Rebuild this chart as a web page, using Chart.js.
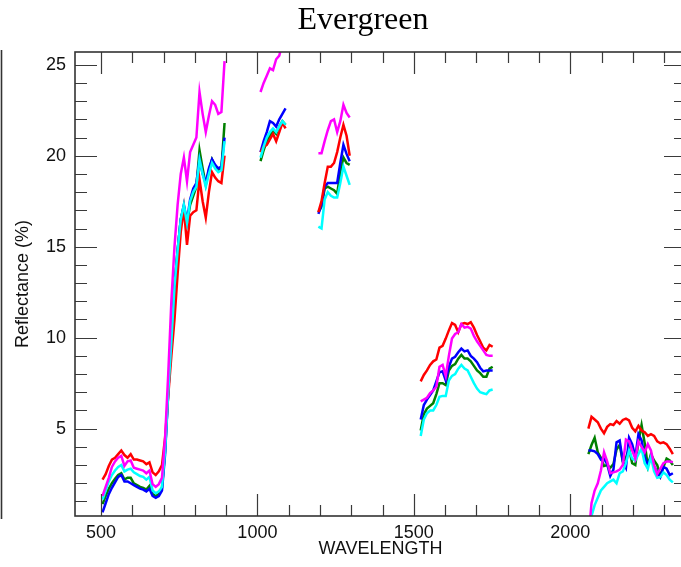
<!DOCTYPE html>
<html>
<head>
<meta charset="utf-8">
<title>Evergreen</title>
<script src="https://cdn.jsdelivr.net/npm/chart.js@4.4.0/dist/chart.umd.min.js"></script>
<style>
  html, body { margin: 0; padding: 0; background: #fff; overflow: hidden; }
  #wrap { position: relative; width: 681px; height: 567px; overflow: hidden; }
  #title {
    position: absolute; left: 0; top: 0; width: 726px; text-align: center;
    font-family: "Liberation Serif", "Times New Roman", serif; font-size: 32px; color: #000;
    line-height: 36px;
  }
  #chart { position: absolute; left: 0; top: 0; }
</style>
</head>
<body>
<div id="wrap">
  <canvas id="chart" width="700" height="567"></canvas>
  <div id="title">Evergreen</div>
</div>
<script>
// Spectral reflectance, evergreen canopy (5 samples)
// gaps (950, 1140, 1400, 1900) are the water absorption bands, left empty

const WAVELENGTH = [
    505, 515, 525, 535, 545, 555, 565, 575, 585, 595, 605, 615, 625, 635, 645, 655, 665, 675, 685, 695,
    705, 715, 725, 735, 745, 755, 765, 775, 785, 795, 805, 815, 825, 835, 845, 855, 865, 875, 885, 895,
    950,
    1010, 1020, 1030, 1040, 1050, 1060, 1070, 1080, 1090,
    1140,
    1195, 1205, 1215, 1225, 1235, 1245, 1255, 1265, 1275, 1285, 1295,
    1400,
    1522, 1532, 1542, 1552, 1562, 1572, 1582, 1592, 1602, 1612, 1622, 1632,
    1642, 1652, 1662, 1672, 1682, 1692, 1702, 1712, 1722, 1732, 1742, 1752,
    1900,
    2058, 2068, 2078, 2088, 2098, 2108, 2118, 2128, 2138, 2148, 2158, 2168, 2178, 2188,
    2198, 2208, 2218, 2228, 2238, 2248, 2258, 2268, 2278, 2288, 2298, 2308, 2318, 2328
];

const RED = [
    2.2, 2.5, 2.95, 3.3, 3.4, 3.6, 3.8, 3.55, 3.4, 3.6, 3.3, 3.3, 3.25, 3.2, 3.05, 3.15, 2.6, 2.45, 2.65, 3.0,
    4.5, 6.8, 9.0, 11.0, 13.5, 15.8, 17.1, 15.1, 16.7, 16.9, 17.0, 18.7, 17.5, 16.6, 18.0, 19.1, 18.8, 18.6, 18.5, 20.0,
    null,
    20.2, 20.5, 20.6, 20.9, 21.2, 20.8, 21.3, 21.8, 21.5,
    null,
    16.9, 17.5, 18.5, 19.4, 19.4, 19.6, 20.2, 21.0, 21.7, 21.1, 20.0,
    null,
    7.6, 7.95, 8.2, 8.5, 8.7, 8.8, 9.45, 9.55, 9.95, 10.4, 10.8, 10.7,
    10.3, 10.75, 10.8, 10.75, 10.85, 10.55, 10.15, 9.8, 9.45, 9.3, 9.6, 9.5,
    null,
    5.0, 5.65, 5.5, 5.35, 5.0, 4.75, 5.1, 5.25, 5.2, 5.42, 5.27, 5.48, 5.55, 5.45,
    5.05, 4.85, 5.15, 4.9, 4.8, 4.6, 4.7, 4.6, 4.3, 4.2, 4.25, 4.15, 3.9, 3.6
];

const MAGENTA = [
    1.3, 1.8, 2.3, 2.9, 3.2, 3.4, 3.5, 2.95, 3.2, 3.25, 2.85, 2.8, 2.75, 2.7, 2.55, 2.7, 1.95, 1.8, 1.95, 2.3,
    4.5, 8.0, 12.0, 15.0, 17.3, 19.0, 19.9, 18.6, 20.2, 20.6, 21.0, 23.5, 22.3, 21.3, 22.2, 23.0, 22.8, 22.3, 22.4, 25.2,
    null,
    23.5, 24.0, 24.4, 24.8, 24.7, 25.3, 25.5, 26.2, 26.6,
    null,
    20.14, 20.14, 20.8, 21.4, 21.9, 22.0, 21.3, 21.9, 22.8, 22.35, 22.1,
    null,
    6.5, 6.6, 6.7, 6.95, 7.1, 7.3, 8.4, 8.5, 7.9, 9.0, 9.95, 10.2,
    10.3, 10.75, 10.55, 10.6, 10.5, 10.1, 9.8, 9.55, 9.3, 9.05, 9.0, 9.0,
    null,
    -1.0, 0.9, 1.6, 2.0, 2.7, 3.7, 3.2, 2.55, 2.6, 2.65, 2.75, 3.0, 4.4, 4.3,
    3.8, 3.35, 4.3, 4.0, 3.7, 4.15, 3.8, 3.0, 2.5, 2.8, 3.1, 3.2, 3.2, 3.15
];

const CYAN = [
    1.1, 1.6, 2.1, 2.45, 2.7, 2.9, 3.0, 2.65, 2.75, 2.8, 2.6, 2.5, 2.4, 2.35, 2.2, 2.35, 1.6, 1.45, 1.55, 1.8,
    3.8, 7.0, 9.8, 12.8, 14.8, 16.5, 17.3, 16.3, 17.5, 18.0, 18.3, 19.8, 19.0, 18.3, 19.0, 19.6, 19.3, 19.1, 19.2, 20.8,
    null,
    19.9, 20.5, 21.0, 21.3, 21.5, 21.3, 21.6, 21.9, 21.7,
    null,
    16.1, 16.0, 17.6, 18.0, 17.8, 17.7, 17.7, 18.5, 19.4, 18.9, 18.4,
    null,
    4.6, 5.5, 5.85, 6.0, 6.0, 6.3, 6.75, 6.8, 6.8, 7.65, 7.9, 8.0,
    8.3, 8.5, 8.3, 8.2, 7.85, 7.5, 7.2, 7.0, 6.95, 6.9, 7.1, 7.15,
    null,
    -1.5, 0.2, 0.8, 1.2, 1.6, 1.8, 2.0, 2.1, 2.2, 2.0, 2.55, 2.65, 3.1, 3.8,
    3.35, 3.25, 3.6, 3.9, 3.1, 2.8, 3.45, 2.65, 2.3, 2.35, 2.6, 2.45, 2.2, 2.05
];

const GREEN = [
    0.85, 1.3, 1.7, 2.0, 2.25, 2.45, 2.55, 2.2, 2.3, 2.3, 2.0, 1.9, 1.8, 1.75, 1.65, 1.85, 1.4, 1.3, 1.4, 1.75,
    3.8, 7.0, 9.8, 12.8, 14.8, 16.5, 17.2, 16.3, 17.3, 17.8, 18.3, 20.3, 19.3, 18.4, 19.2, 19.8, 19.4, 19.2, 19.3, 21.8,
    null,
    19.7, 20.3, 20.8, 21.1, 21.4, 21.2, 21.6, 21.9, 21.7,
    null,
    16.9, 17.2, 18.2, 18.3, 18.2, 18.1, 17.9, 19.1, 19.9, 19.6, 19.5,
    null,
    4.9, 5.8, 6.1, 6.25, 6.4, 6.9, 7.5, 7.5, 7.4, 8.2, 8.45, 8.55,
    8.85, 9.05, 8.85, 8.85, 8.7, 8.45, 8.2, 8.05, 7.85, 7.85, 8.3, 8.4,
    null,
    3.6, 4.1, 4.5, 3.7, 3.4, 2.95, 3.0, 2.85, 3.05, 3.85, 4.1, 3.2, 3.4, 3.9,
    3.1, 3.0, 4.3, 5.2, 4.2, 2.95, 3.6, 3.25, 3.0, 2.4, 2.9, 3.35, 3.25, 3.0
];

const BLUE = [
    0.4, 0.9, 1.4, 1.75, 2.05, 2.35, 2.45, 2.1, 2.1, 2.0, 1.9, 1.8, 1.7, 1.65, 1.55, 1.7, 1.3, 1.2, 1.3, 1.6,
    3.6, 7.0, 9.8, 12.8, 14.8, 16.5, 17.3, 16.4, 17.6, 18.2, 18.5, 19.8, 19.0, 18.5, 19.3, 19.8, 19.5, 19.3, 19.4, 21.0,
    null,
    20.2, 20.8, 21.3, 21.9, 21.8, 21.6, 22.0, 22.3, 22.6,
    null,
    16.8, 17.3, 18.3, 18.5, 18.5, 18.5, 18.5, 19.6, 20.6, 20.1, 19.7,
    null,
    5.5, 6.3, 6.6, 6.85, 7.1, 7.6, 8.1, 8.15, 7.65, 8.4, 8.85, 8.95,
    9.2, 9.4, 9.25, 9.3, 9.0, 8.85, 8.65, 8.35, 8.15, 8.2, 8.2, 8.2,
    null,
    3.8, 3.8, 3.75, 3.6, 3.3, 3.35, 3.05, 2.4, 2.75, 4.25, 4.35, 3.2, 2.85, 4.5,
    4.15, 3.45, 4.7, 4.35, 3.45, 3.0, 3.45, 2.95, 2.6, 2.35, 2.9, 2.8, 2.45, 2.55
];

const X_TICKS = [500, 1000, 1500, 2000];
const Y_TICKS = [5, 10, 15, 20, 25];

const X_MIN = 417, X_MAX = 2370;
const Y_MIN = 0.2, Y_MAX = 25.7;

function toPoints(values) {
    return WAVELENGTH.map((w, i) => ({ x: w, y: values[i] }));
}

function series(values, color, order) {
    return {
        data: toPoints(values),
        borderColor: color,
        backgroundColor: color,
        borderWidth: 2.5,
        pointRadius: 0,
        tension: 0,
        spanGaps: false,
        order: order
    };
}

// IDL style box with inward ticks (major every 500 / 5, minor every 100 / 1)
const boxTicks = {
    id: 'boxTicks',
    afterDatasetsDraw(chart) {
        const { ctx, chartArea: a, scales: { x, y } } = chart;
        ctx.save();
        ctx.strokeStyle = '#3a3a3a';
        ctx.lineWidth = 1.2;
        ctx.beginPath();
        for (let v = 500; v <= X_MAX; v += 100) {
            const px = Math.round(x.getPixelForValue(v)) + 0.5;
            const len = v % 500 === 0 ? 22 : 11;
            ctx.moveTo(px, a.bottom); ctx.lineTo(px, a.bottom - len);
            ctx.moveTo(px, a.top); ctx.lineTo(px, a.top + len);
        }
        for (let v = 1; v <= Y_MAX; v += 1) {
            const py = Math.round(y.getPixelForValue(v)) + 0.5;
            const len = v % 5 === 0 ? 22 : 12;
            ctx.moveTo(a.left, py); ctx.lineTo(a.left + len, py);
            ctx.moveTo(a.right, py); ctx.lineTo(a.right - len, py);
        }
        ctx.stroke();

        ctx.lineWidth = 1.6;
        ctx.strokeStyle = '#333';
        ctx.strokeRect(a.left, a.top, a.right - a.left, a.bottom - a.top);

        // edge of the neighbouring panel
        ctx.beginPath();
        ctx.moveTo(1.5, a.top - 2);
        ctx.lineTo(1.5, a.bottom + 3);
        ctx.stroke();
        ctx.restore();
    }
};

const tickFont = { family: "'Liberation Sans', Arial, Helvetica, sans-serif", size: 18 };

new Chart(document.getElementById('chart'), {
    type: 'line',
    data: {
        datasets: [
            series(GREEN, '#008000', 5),
            series(BLUE, '#0000ff', 4),
            series(RED, '#ff0000', 3),
            series(CYAN, '#00ffff', 2),
            series(MAGENTA, '#ff00ff', 1)
        ]
    },
    options: {
        responsive: false,
        animation: false,
        devicePixelRatio: 1,
        layout: { padding: { top: 52, right: 14, left: 0, bottom: 0 } },
        plugins: {
            legend: { display: false },
            tooltip: { enabled: false }
        },
        scales: {
            x: {
                type: 'linear',
                min: X_MIN,
                max: X_MAX,
                grid: { display: false, drawTicks: false },
                border: { display: false },
                afterBuildTicks: s => { s.ticks = X_TICKS.map(v => ({ value: v })); },
                afterFit: s => { s.height = 51; },
                ticks: {
                    font: tickFont,
                    color: '#111',
                    padding: 6,
                    autoSkip: false,
                    maxRotation: 0,
                    callback: v => String(v)
                },
                title: {
                    display: true,
                    text: 'WAVELENGTH',
                    font: tickFont,
                    color: '#111',
                    padding: 7
                }
            },
            y: {
                type: 'linear',
                min: Y_MIN,
                max: Y_MAX,
                grid: { display: false, drawTicks: false },
                border: { display: false },
                afterBuildTicks: s => { s.ticks = Y_TICKS.map(v => ({ value: v })); },
                afterFit: s => { s.width = 75; },
                ticks: {
                    font: tickFont,
                    color: '#111',
                    padding: 9,
                    autoSkip: false,
                    callback: v => String(v)
                },
                title: {
                    display: true,
                    text: 'Reflectance (%)',
                    font: tickFont,
                    color: '#111',
                    padding: 12
                }
            }
        }
    },
    plugins: [boxTicks]
});
</script>
</body>
</html>
